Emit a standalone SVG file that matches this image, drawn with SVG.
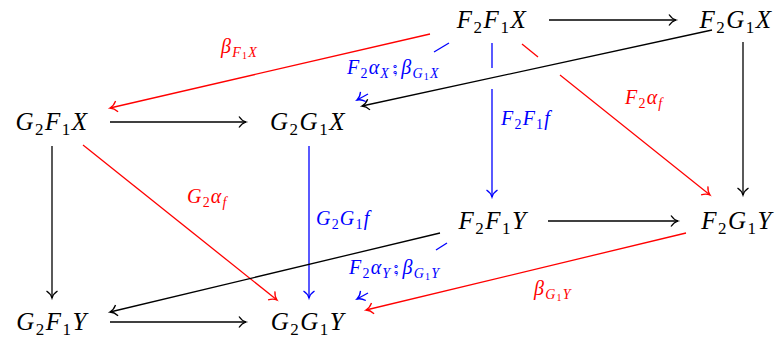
<svg xmlns="http://www.w3.org/2000/svg" width="783" height="338" viewBox="0 0 783 338">
<style>
.n{font-family:"Liberation Serif",serif;font-style:italic;font-size:25px;fill:#000;text-anchor:middle;letter-spacing:1.5px}
.s{font-size:17px;font-style:normal}
.l{font-family:"Liberation Serif",serif;font-style:italic;font-size:20px;letter-spacing:1.2px}
.ls{font-size:14px}
.lss{font-size:10px;font-style:normal}
.r{fill:#ff0000}
.b{fill:#0000ff}
.k{stroke:#000;stroke-width:1.3;fill:none}
.kr{stroke:#ff0000;stroke-width:1.3;fill:none}
.kb{stroke:#0000ff;stroke-width:1.3;fill:none}
.ak{marker-end:url(#mk)}
.ar{marker-end:url(#mr)}
.ab{marker-end:url(#mb)}
</style>
<defs>
<marker id="mk" markerUnits="userSpaceOnUse" markerWidth="16" markerHeight="16" refX="0" refY="0" viewBox="-9 -8 10 16" orient="auto" overflow="visible"><path d="M -7 -5.5 C -5 -2.5 -2 -0.6 0 0 C -2 0.6 -5 2.5 -7 5.5" stroke="#000" stroke-width="1.3" fill="none"/></marker>
<marker id="mr" markerUnits="userSpaceOnUse" markerWidth="16" markerHeight="16" refX="0" refY="0" viewBox="-9 -8 10 16" orient="auto" overflow="visible"><path d="M -7 -5.5 C -5 -2.5 -2 -0.6 0 0 C -2 0.6 -5 2.5 -7 5.5" stroke="#ff0000" stroke-width="1.3" fill="none"/></marker>
<marker id="mb" markerUnits="userSpaceOnUse" markerWidth="16" markerHeight="16" refX="0" refY="0" viewBox="-9 -8 10 16" orient="auto" overflow="visible"><path d="M -7 -5.5 C -5 -2.5 -2 -0.6 0 0 C -2 0.6 -5 2.5 -7 5.5" stroke="#0000ff" stroke-width="1.3" fill="none"/></marker>
</defs>

<g id="connectors">
<line class="k ak" x1="549" y1="20" x2="676" y2="20"/>
<line class="k ak" x1="743" y1="42" x2="743" y2="195"/>
<line class="k ak" x1="712" y1="30" x2="362" y2="106"/>
<line class="kr ar" x1="430" y1="34" x2="110" y2="108"/>
<line class="kb" x1="449" y1="43" x2="434" y2="52"/>
<line class="kb ab" x1="368" y1="94" x2="357" y2="100"/>
<line class="kb" x1="492" y1="43" x2="492" y2="68"/>
<line class="kb ab" x1="492" y1="89" x2="492" y2="197"/>
<line class="kr" x1="522" y1="44" x2="538" y2="57"/>
<line class="kr ar" x1="560" y1="75" x2="710" y2="195"/>
<line class="k ak" x1="110" y1="122" x2="246" y2="122"/>
<line class="k ak" x1="52" y1="146" x2="52" y2="298"/>
<line class="kr ar" x1="83" y1="145" x2="277" y2="300"/>
<line class="kb ab" x1="309" y1="146" x2="309" y2="298"/>
<line class="k ak" x1="548" y1="221" x2="678" y2="221"/>
<line class="k ak" x1="440" y1="233" x2="110" y2="312"/>
<line class="kb" x1="447" y1="243" x2="436" y2="250"/>
<line class="kb ab" x1="368" y1="293" x2="357" y2="299"/>
<line class="kr ar" x1="686" y1="233" x2="366" y2="310"/>
<line class="k ak" x1="110" y1="322" x2="246" y2="322"/>
</g>

<g id="F2F1X"><text class="n" x="492" y="28">F<tspan class="s" dy="5">2</tspan><tspan dy="-5">F</tspan><tspan class="s" dy="5">1</tspan><tspan dy="-5">X</tspan></text></g>
<g id="F2G1X"><text class="n" x="736" y="28">F<tspan class="s" dy="5">2</tspan><tspan dy="-5">G</tspan><tspan class="s" dy="5">1</tspan><tspan dy="-5">X</tspan></text></g>
<g id="G2F1X"><text class="n" x="52" y="130">G<tspan class="s" dy="5">2</tspan><tspan dy="-5">F</tspan><tspan class="s" dy="5">1</tspan><tspan dy="-5">X</tspan></text></g>
<g id="G2G1X"><text class="n" x="308" y="130">G<tspan class="s" dy="5">2</tspan><tspan dy="-5">G</tspan><tspan class="s" dy="5">1</tspan><tspan dy="-5">X</tspan></text></g>
<g id="F2F1Y"><text class="n" x="493" y="229">F<tspan class="s" dy="5">2</tspan><tspan dy="-5">F</tspan><tspan class="s" dy="5">1</tspan><tspan dy="-5">Y</tspan></text></g>
<g id="F2G1Y"><text class="n" x="737" y="229">F<tspan class="s" dy="5">2</tspan><tspan dy="-5">G</tspan><tspan class="s" dy="5">1</tspan><tspan dy="-5">Y</tspan></text></g>
<g id="G2F1Y"><text class="n" x="52" y="330">G<tspan class="s" dy="5">2</tspan><tspan dy="-5">F</tspan><tspan class="s" dy="5">1</tspan><tspan dy="-5">Y</tspan></text></g>
<g id="G2G1Y"><text class="n" x="308" y="330">G<tspan class="s" dy="5">2</tspan><tspan dy="-5">G</tspan><tspan class="s" dy="5">1</tspan><tspan dy="-5">Y</tspan></text></g>

<g id="labels">
<text class="l r" x="221" y="53">β<tspan class="ls" dy="4">F</tspan><tspan class="lss" dy="2">1</tspan><tspan class="ls" dy="-2">X</tspan></text>
<text class="l b" x="347" y="74">F<tspan class="ls" dy="4" font-style="normal">2</tspan><tspan dy="-4">α</tspan><tspan class="ls" dy="4">X</tspan><tspan dy="-4" dx="2" font-family="DejaVu Sans, sans-serif" font-style="normal">⨟</tspan><tspan dx="2">β</tspan><tspan class="ls" dy="4">G</tspan><tspan class="lss" dy="2">1</tspan><tspan class="ls" dy="-2">X</tspan></text>
<text class="l b" x="501" y="125">F<tspan class="ls" dy="4" font-style="normal">2</tspan><tspan dy="-4">F</tspan><tspan class="ls" dy="4" font-style="normal">1</tspan><tspan dy="-4">f</tspan></text>
<text class="l r" x="625" y="104">F<tspan class="ls" dy="4" font-style="normal">2</tspan><tspan dy="-4">α</tspan><tspan class="ls" dy="4">f</tspan></text>
<text class="l r" x="187" y="203">G<tspan class="ls" dy="4" font-style="normal">2</tspan><tspan dy="-4">α</tspan><tspan class="ls" dy="4">f</tspan></text>
<text class="l b" x="316" y="225">G<tspan class="ls" dy="4" font-style="normal">2</tspan><tspan dy="-4">G</tspan><tspan class="ls" dy="4" font-style="normal">1</tspan><tspan dy="-4">f</tspan></text>
<text class="l b" x="349" y="274">F<tspan class="ls" dy="4" font-style="normal">2</tspan><tspan dy="-4">α</tspan><tspan class="ls" dy="4">Y</tspan><tspan dy="-4" dx="2" font-family="DejaVu Sans, sans-serif" font-style="normal">⨟</tspan><tspan dx="2">β</tspan><tspan class="ls" dy="4">G</tspan><tspan class="lss" dy="2">1</tspan><tspan class="ls" dy="-2">Y</tspan></text>
<text class="l r" x="534" y="295">β<tspan class="ls" dy="4">G</tspan><tspan class="lss" dy="2">1</tspan><tspan class="ls" dy="-2">Y</tspan></text>
</g>
</svg>
